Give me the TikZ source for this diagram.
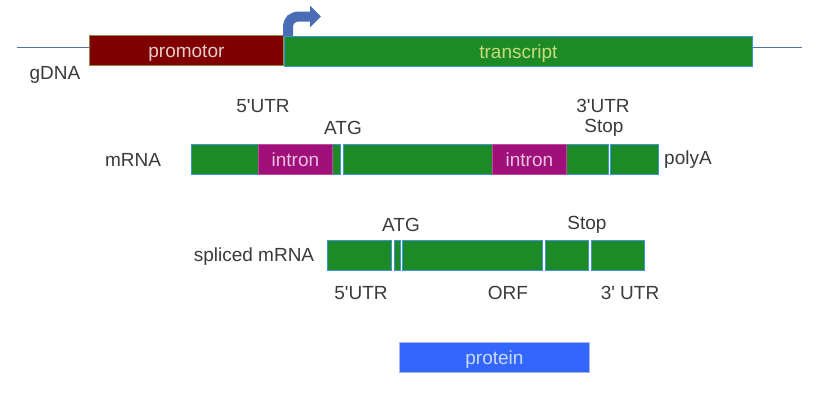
\documentclass[tikz,border=0pt]{standalone}
\usepackage{fontspec}
\setmainfont{Liberation Sans}
\usetikzlibrary{arrows.meta}
\definecolor{txt}{HTML}{3A3A3A}
\definecolor{gfill}{HTML}{1B8A27}
\definecolor{gline}{HTML}{3A96D8}
\definecolor{promfill}{HTML}{800000}
\definecolor{promline}{HTML}{8C8C3C}
\definecolor{intfill}{HTML}{A0107A}
\definecolor{intline}{HTML}{C04A9E}
\definecolor{protfill}{HTML}{3366FF}
\definecolor{protline}{HTML}{A8B8E8}
\definecolor{dnaline}{HTML}{5070B0}
\definecolor{arrowblue}{HTML}{4A6CB6}
\definecolor{transtxt}{HTML}{CADB7C}
\tikzset{
  lbl/.style={text=txt, font=\fontsize{19}{22}\selectfont, inner sep=0pt},
  boxbase/.style={anchor=north west, minimum height=30pt, inner sep=0pt, line width=0.8pt,
                  font=\fontsize{19}{22}\selectfont, text height=15pt, text depth=0pt},
  seg/.style={boxbase, draw=gline, fill=gfill},
  intronbox/.style={boxbase, draw=intline, fill=intfill, text=intfill!25!white},
}
\newcommand{\qs}{\textquotesingle}
\begin{document}
\begin{tikzpicture}[x=1pt,y=-1pt]
\useasboundingbox (0,0) rectangle (826,408);
% gDNA
\coordinate (gl) at (17,47);
\coordinate (gr) at (802,47);
\node[boxbase, draw=promline, fill=promfill, minimum width=194pt,
      text=promfill!20!white] (prom) at (89,35) {promotor};
\node[seg, minimum width=468pt, text=transtxt] (trans) at (284,36) {transcript};
\draw[dnaline, line width=1pt] (gl) -- (gl -| prom.west);
\draw[dnaline, line width=1pt] (gr -| trans.east) -- (gr);
\coordinate (tss) at (288,36);
\coordinate (tsstip) at (321,16.5);
\draw[arrowblue, line width=10pt, -{Triangle[length=11pt,width=21pt]}]
  (tss) -- (288,28) .. controls (288,20) and (292,16.5) .. (300,16.5) -- (tsstip);
\node[lbl] (gdna) at (55,75) {gDNA};
% mRNA
\node[seg, minimum width=148.5pt] (m1) at (191,144) {};
\node[seg, minimum width=265pt] (m2) at (342.5,144) {};
\node[seg, minimum width=48pt] (m3) at (609.5,144) {};
\node[intronbox, minimum width=74pt] (i1) at (258,144) {intron};
\node[intronbox, minimum width=74pt] (i2) at (492,144) {intron};
\node[lbl] (mrna) at (133,160) {mRNA};
\node[lbl] (polya) at (688,160) {polyA};
\node[lbl] (utr5a) at (263,106) {5\qs UTR};
\node[lbl] (atga) at (343,128) {ATG};
\node[lbl] (utr3a) at (603,106) {3\qs UTR};
\node[lbl] (stopa) at (604,128) {Stop};
% spliced mRNA
\node[seg, minimum width=63.5pt] (s1) at (327,240) {};
\node[seg, minimum width=6pt] (s2) at (393.5,240) {};
\node[seg, minimum width=140pt] (s3) at (402,240) {};
\node[seg, minimum width=43pt] (s4) at (545,240) {};
\node[seg, minimum width=53pt] (s5) at (590.5,240) {};
\node[lbl] (splm) at (254,257) {spliced mRNA};
\node[lbl] (atgb) at (401,225) {ATG};
\node[lbl] (stopb) at (587,225) {Stop};
\node[lbl] (utr5b) at (361,293) {5\qs UTR};
\node[lbl] (orf) at (508,293) {ORF};
\node[lbl] (utr3b) at (630,293) {3\qs{} UTR};
% protein
\node[boxbase, draw=protline, fill=protfill, minimum width=190pt,
      text=protfill!25!white] (prot) at (399,342) {protein};
\end{tikzpicture}
\end{document}
